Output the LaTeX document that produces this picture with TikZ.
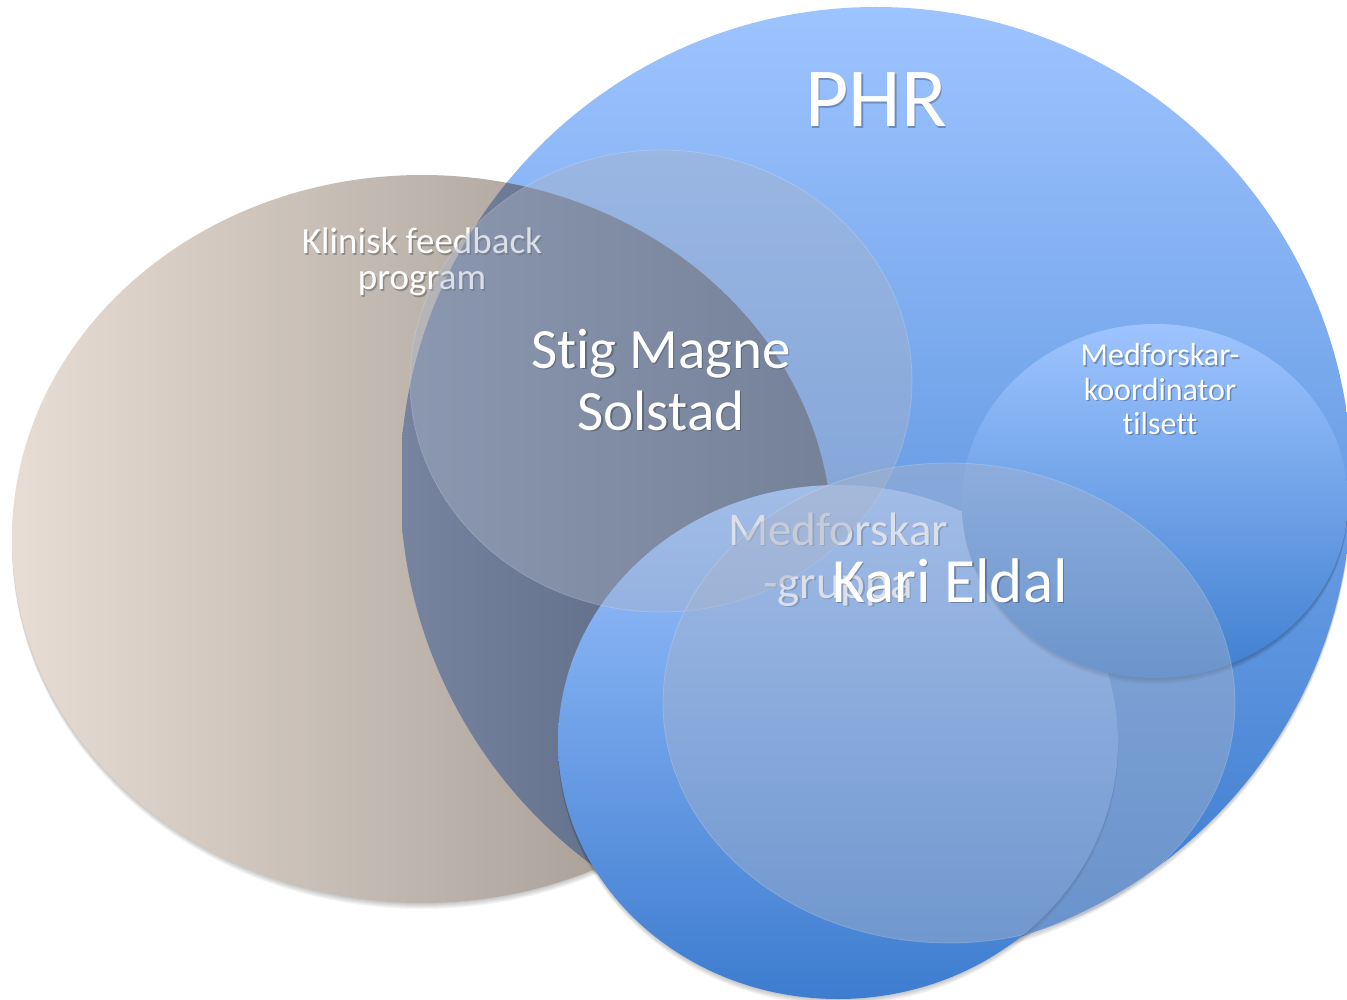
\documentclass[tikz,border=0pt]{standalone}
\usepackage{fontspec}
\setmainfont[Ligatures=NoCommon]{Carlito}
\definecolor{phrtop}{HTML}{9EC4FF}
\definecolor{phrmid}{HTML}{88B0F2}
\definecolor{phrbot}{HTML}{3B7BCE}
\definecolor{brl}{HTML}{E8DDD4}
\definecolor{brr}{HTML}{928B85}
\definecolor{dkl}{HTML}{7784A0}
\definecolor{dkr}{HTML}{4F5D77}
\definecolor{grtop}{HTML}{9DC3FF}
\definecolor{grmid}{HTML}{79A4EA}
\definecolor{grbot}{HTML}{3D7CCF}
\definecolor{kotop}{HTML}{9EC4FF}
\definecolor{komid}{HTML}{7FA9EE}
\definecolor{kobot}{HTML}{3F7FD0}
\definecolor{glassc}{HTML}{AAB4C8}
\newcommand{\wlabel}[5]{%
  \node[lblshadow, font=\fontsize{#4}{#4}\selectfont] (#1-s) at ({#2+1.5},{#3+1.8}) {#5};
  \node[lbltext, font=\fontsize{#4}{#4}\selectfont] (#1) at (#2,#3) {#5};
}
\begin{document}
\begin{tikzpicture}[x=1pt,y=-1pt,
  softshadow/.style={fill=black, fill opacity=0.04},
  glass/.style={fill=glassc, fill opacity=0.42, draw=white, draw opacity=0.18, line width=0.8pt},
  lbltext/.style={text=white, inner sep=0pt, anchor=base},
  lblshadow/.style={text=black, text opacity=0.25, inner sep=0pt, anchor=base}]
\useasboundingbox (0,0) rectangle (1347,1000);

% PHR
\foreach \k in {1,...,6}
  \fill[softshadow] (876,{483+\k}) ellipse [x radius=476pt, y radius=476pt];
\shade[top color=phrtop, middle color=phrmid, bottom color=phrbot]
  (876,483) ellipse [x radius=476pt, y radius=476pt];

% Klinisk feedback program
\foreach \k in {1,...,6}
  \fill[softshadow] (422,{539+\k}) ellipse [x radius=410pt, y radius=364pt];
\shade[left color=brl, right color=brr]
  (422,539) ellipse [x radius=410pt, y radius=364pt];
\begin{scope}
  \clip (876,483) ellipse [x radius=476pt, y radius=476pt];
  \clip (422,539) ellipse [x radius=410pt, y radius=364pt];
  \shade[left color=dkl, right color=dkr] (402,0) rectangle (832,1000);
\end{scope}
\wlabel{kf1}{422}{254}{37}{Klinisk feedback}
\wlabel{kf2}{422}{290}{37}{program}

% Medforskar-gruppa
\foreach \k in {1,...,6}
  \fill[softshadow] (838,{742+\k}) ellipse [x radius=280pt, y radius=257pt];
\shade[top color=grtop, middle color=grmid, bottom color=grbot]
  (838,742) ellipse [x radius=280pt, y radius=257pt];
\wlabel{mg1}{838}{545}{47}{Medforskar}
\wlabel{mg2}{838}{598}{47}{-gruppa}

% Medforskar-koordinator
\foreach \k in {1,...,6}
  \fill[softshadow] (1155,{501+\k}) ellipse [x radius=193pt, y radius=177pt];
\shade[top color=kotop, middle color=komid, bottom color=kobot]
  (1155,501) ellipse [x radius=193pt, y radius=177pt];

% Stig Magne Solstad
\path[glass] (661,381) ellipse [x radius=251pt, y radius=231pt];
\wlabel{sm1}{661}{368}{57}{Stig Magne}
\wlabel{sm2}{661}{430}{57}{Solstad}

% Kari Eldal
\path[glass] (949,703) ellipse [x radius=286pt, y radius=240pt];
\wlabel{ke}{950}{602}{63}{Kari Eldal}

% koordinator text
\wlabel{mk1}{1160}{366}{32}{Medforskar-}
\wlabel{mk2}{1160}{400}{32}{koordinator}
\wlabel{mk3}{1160}{434}{32}{tilsett}

% PHR text
\wlabel{phr}{876}{127}{84}{PHR}
\end{tikzpicture}
\end{document}
